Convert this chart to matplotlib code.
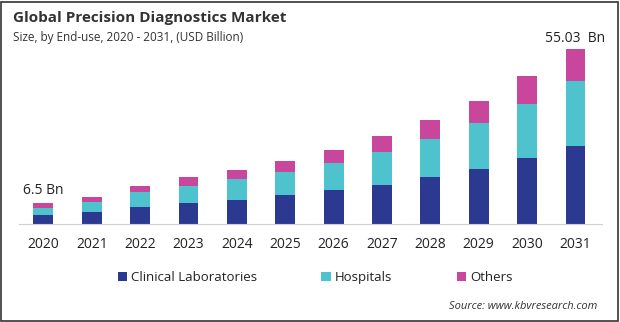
import matplotlib.pyplot as plt
from matplotlib.patches import Rectangle

plt.rcParams['font.family'] = ['Open Sans', 'DejaVu Sans']

years = ['2020', '2021', '2022', '2023', '2024', '2025',
         '2026', '2027', '2028', '2029', '2030', '2031']
clinical = [2.8, 3.8, 5.3, 6.7, 7.5, 9.1, 10.7, 12.4, 14.8, 17.3, 20.8, 24.5]
hospitals = [2.2, 3.2, 4.8, 5.3, 6.7, 7.3, 8.4, 10.3, 12.0, 14.5, 17.0, 20.43]
others = [1.5, 1.6, 1.9, 2.8, 2.7, 3.4, 4.2, 5.0, 6.0, 6.9, 8.5, 10.1]

c_navy = '#2B3990'
c_cyan = '#4EC3CD'
c_pink = '#C8479C'

fig = plt.figure(figsize=(6.2, 3.22), dpi=100)
ax = fig.add_axes([0.031, 0.304, 0.94, 0.545])

x = range(len(years))
w = 0.41
ax.bar(x, clinical, w, color=c_navy, label='Clinical Laboratories')
bottom2 = [a for a in clinical]
ax.bar(x, hospitals, w, bottom=bottom2, color=c_cyan, label='Hospitals')
bottom3 = [a + b for a, b in zip(clinical, hospitals)]
ax.bar(x, others, w, bottom=bottom3, color=c_pink, label='Others')

ax.set_xlim(-0.5, len(years) - 0.45)
ax.set_ylim(0, 55.03)
ax.set_xticks(list(x))
ax.set_xticklabels(years, fontsize=10)
ax.tick_params(axis='x', length=0, pad=9, colors='#222222')
ax.set_yticks([])
for s in ['top', 'right', 'left']:
    ax.spines[s].set_visible(False)
ax.spines['bottom'].set_color('#d0d0d0')

totals = [a + b + c for a, b, c in zip(clinical, hospitals, others)]
ax.annotate('6.5 Bn', (0, totals[0]), xytext=(0, 4), textcoords='offset points',
            ha='center', va='bottom', fontsize=10, color='#222222')
ax.annotate('55.03  Bn', (11, totals[-1]), xytext=(0, 2), textcoords='offset points',
            ha='center', va='bottom', fontsize=10, color='#222222')

fig.text(0.021, 0.945, 'Global Precision Diagnostics Market', fontsize=11,
         fontweight='bold', color='#333333', va='center')
fig.text(0.021, 0.885, 'Size, by End-use, 2020 - 2031, (USD Billion)', fontsize=8.5,
         color='#333333', va='center')

fig.legend(loc='center', bbox_to_anchor=(0.508, 0.138), ncol=3, frameon=False,
           fontsize=9.5, handlelength=0.7, handleheight=0.7, handletextpad=0.3,
           columnspacing=4.9, labelcolor='#222222')

fig.text(0.963, 0.049, 'Source: www.kbvresearch.com', fontsize=8, style='italic',
         color='#333333', ha='right', va='center')

fig.patches.append(Rectangle((0.002, 0.004), 0.994, 0.99, transform=fig.transFigure,
                             fill=False, edgecolor='#333333', linewidth=1.2))

fig.savefig('out.png', dpi=100)
